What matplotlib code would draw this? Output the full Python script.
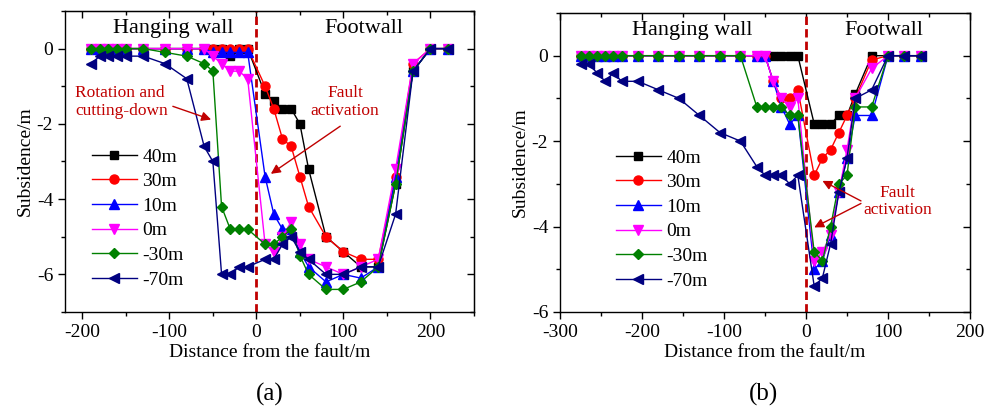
import numpy as np
import matplotlib
matplotlib.use("Agg")
import matplotlib.pyplot as plt
from matplotlib.ticker import MultipleLocator

plt.rcParams['font.family'] = ['Liberation Serif', 'DejaVu Serif']
plt.rcParams['axes.unicode_minus'] = False

# ---- data: panel (a) ----
xa = [-190, -180, -170, -160, -150, -130, -105, -80, -60, -50, -40, -30, -20, -10,
      10, 20, 30, 40, 50, 60, 80, 100, 120, 140, 160, 180, 200, 220]
a_40m = [0, 0, 0, 0, 0, 0, 0, 0, 0, 0, 0, -0.2, 0, 0,
         -1.2, -1.4, -1.6, -1.6, -2.0, -3.2, -5.0, -5.4, -5.8, -5.8, -3.6, -0.6, 0, 0]
a_30m = [0, 0, 0, 0, 0, 0, 0, 0, 0, 0, 0, 0, 0, 0,
         -1.0, -1.6, -2.4, -2.6, -3.4, -4.2, -5.0, -5.4, -5.6, -5.6, -3.4, -0.4, 0, 0]
a_10m = [0, 0, 0, 0, 0, 0, 0, 0, 0, -0.1, -0.1, -0.1, -0.1, -0.1,
         -3.4, -4.4, -4.8, -4.8, -5.4, -5.8, -6.2, -6.0, -6.1, -5.8, -3.4, -0.6, 0, 0]
a_0m = [0, 0, 0, 0, 0, 0, 0, 0, 0, -0.2, -0.4, -0.6, -0.6, -0.8,
        -5.2, -5.4, -5.0, -4.6, -5.2, -5.6, -5.8, -6.0, -5.8, -5.6, -3.2, -0.4, 0, 0]
a_m30m = [0, 0, 0, 0, 0, 0, -0.1, -0.2, -0.4, -0.6, -4.2, -4.8, -4.8, -4.8,
          -5.2, -5.2, -5.0, -4.8, -5.5, -6.0, -6.4, -6.4, -6.2, -5.8, -3.6, -0.6, 0, 0]
a_m70m = [-0.4, -0.2, -0.2, -0.2, -0.2, -0.2, -0.4, -0.8, -2.6, -3.0, -6.0, -6.0, -5.8, -5.8,
          -5.6, -5.6, -5.2, -5.0, -5.4, -5.6, -6.0, -6.0, -5.8, -5.8, -4.4, -0.6, 0, 0]

# ---- data: panel (b) ----
xb = [-275, -265, -255, -245, -235, -225, -205, -180, -155, -130, -105, -80, -60, -50, -40, -30, -20, -10,
      10, 20, 30, 40, 50, 60, 80, 100, 120, 140]
b_40m = [0] * 18 + [-1.6, -1.6, -1.6, -1.4, -1.4, -0.9, 0, 0, 0, 0]
b_30m = [0] * 14 + [-0.6, -1.0, -1.0, -0.8] + [-2.8, -2.4, -2.2, -1.8, -1.4, -1.0, -0.1, 0, 0, 0]
b_10m = [0] * 14 + [-0.6, -1.2, -1.6, -1.4] + [-5.0, -4.8, -4.2, -3.2, -2.4, -1.4, -1.4, 0, 0, 0]
b_0m = [0] * 14 + [-0.6, -1.0, -1.2, -1.0] + [-4.8, -4.6, -4.2, -3.2, -2.2, -1.0, -0.3, 0, 0, 0]
b_m30m = [0] * 12 + [-1.2, -1.2, -1.2, -1.2, -1.4, -1.4] + [-4.6, -4.8, -4.0, -3.0, -2.8, -1.2, -1.2, 0, 0, 0]
b_m70m = [-0.2, -0.2, -0.4, -0.6, -0.4, -0.6, -0.6, -0.8, -1.0, -1.4, -1.8, -2.0, -2.6, -2.8, -2.8, -2.8, -3.0, -2.8,
          -5.4, -5.2, -4.4, -3.2, -2.4, -1.0, -0.8, 0, 0, 0]

labels = ['40m', '30m', '10m', '0m', '-30m', '-70m']
colors = ['black', '#ff0000', '#0000ff', '#ff00ff', '#008000', '#000080']
markers = ['s', 'o', '^', 'v', 'D', '<']
msizes = [5.5, 6.5, 6.5, 6.5, 5, 6.5]
dark_red = '#c00000'


def style_axes(ax, xmin, xmax, ymin, ymax, xmaj, ymaj):
    ax.set_xlim(xmin, xmax)
    ax.set_ylim(ymin, ymax)
    ax.xaxis.set_major_locator(MultipleLocator(xmaj))
    ax.xaxis.set_minor_locator(MultipleLocator(xmaj / 2))
    ax.yaxis.set_major_locator(MultipleLocator(ymaj))
    ax.yaxis.set_minor_locator(MultipleLocator(ymaj / 2))
    ax.tick_params(which='both', direction='out', labelsize=14, width=1)
    ax.tick_params(which='major', length=5)
    ax.tick_params(which='minor', length=3)
    for s in ax.spines.values():
        s.set_linewidth(1)
    # inward ticks on top and right
    top = ax.secondary_xaxis('top')
    top.xaxis.set_major_locator(MultipleLocator(xmaj))
    top.xaxis.set_minor_locator(MultipleLocator(xmaj / 2))
    top.tick_params(which='both', direction='in', labeltop=False, width=1)
    top.tick_params(which='major', length=5)
    top.tick_params(which='minor', length=3)
    right = ax.secondary_yaxis('right')
    right.yaxis.set_major_locator(MultipleLocator(ymaj))
    right.yaxis.set_minor_locator(MultipleLocator(ymaj / 2))
    right.tick_params(which='both', direction='in', labelright=False, width=1)
    right.tick_params(which='major', length=5)
    right.tick_params(which='minor', length=3)
    ax.set_xlabel('Distance from the fault/m', fontsize=14, labelpad=2)
    ax.set_ylabel('Subsidence/m', fontsize=14, labelpad=2)
    ax.axvline(0, color=dark_red, ls=(0, (3, 1.5)), lw=2, zorder=1)


fig = plt.figure(figsize=(9.99, 4.13), dpi=100)
axa = fig.add_axes([0.065, 0.2446, 0.4094, 0.7288])
axb = fig.add_axes([0.5606, 0.2446, 0.4104, 0.724])

series_a = [a_40m, a_30m, a_10m, a_0m, a_m30m, a_m70m]
series_b = [b_40m, b_30m, b_10m, b_0m, b_m30m, b_m70m]

for ax, xs, series in [(axa, xa, series_a), (axb, xb, series_b)]:
    for ys, lab, c, m, ms in zip(series, labels, colors, markers, msizes):
        ax.plot(xs, ys, color=c, marker=m, markersize=ms, lw=1, label=lab, zorder=3)

style_axes(axa, -220, 250, -7, 1, 100, 2)
style_axes(axb, -300, 200, -6, 1, 100, 2)

leg_kw = dict(loc='upper left', frameon=False, fontsize=14, handlelength=2.3,
              handletextpad=0.3, labelspacing=0.36, borderpad=0, borderaxespad=0,
              bbox_transform=fig.transFigure)
axa.legend(bbox_to_anchor=(92 / 999, 1 - 148 / 413), **leg_kw)
axb.legend(bbox_to_anchor=(616 / 999, 1 - 149 / 413), **leg_kw)

# region labels
axa.text(-96, 0.53, 'Hanging wall', fontsize=16, ha='center', va='center')
axa.text(124, 0.53, 'Footwall', fontsize=16, ha='center', va='center')
axb.text(-139, 0.6, 'Hanging wall', fontsize=16, ha='center', va='center')
axb.text(95, 0.6, 'Footwall', fontsize=16, ha='center', va='center')

arrow = dict(arrowstyle='-|>', color=dark_red, lw=1, mutation_scale=14)

# annotations panel (a)
axa.text(-208, -1.42, 'Rotation and\ncutting-down', fontsize=12.5, color=dark_red,
         ha='left', va='center', linespacing=1.1)
axa.annotate('', xy=(-49, -1.91), xytext=(-99, -1.51), arrowprops=arrow)
axa.text(102, -1.42, 'Fault\nactivation', fontsize=12.5, color=dark_red,
         ha='center', va='center', linespacing=1.1)
axa.annotate('', xy=(14, -3.37), xytext=(99, -2.02), arrowprops=arrow)

# annotations panel (b)
axb.text(112, -3.42, 'Fault\nactivation', fontsize=12.5, color=dark_red,
         ha='center', va='center', linespacing=1.1)
axb.annotate('', xy=(17, -2.9), xytext=(70, -3.43), arrowprops=arrow)
axb.annotate('', xy=(7, -4.05), xytext=(70, -3.43), arrowprops=arrow)

fig.text(270 / 999, 1 - 394 / 413, '(a)', fontsize=18, ha='center', va='center')
fig.text(763 / 999, 1 - 394 / 413, '(b)', fontsize=18, ha='center', va='center')

fig.savefig('out.png', dpi=100)
